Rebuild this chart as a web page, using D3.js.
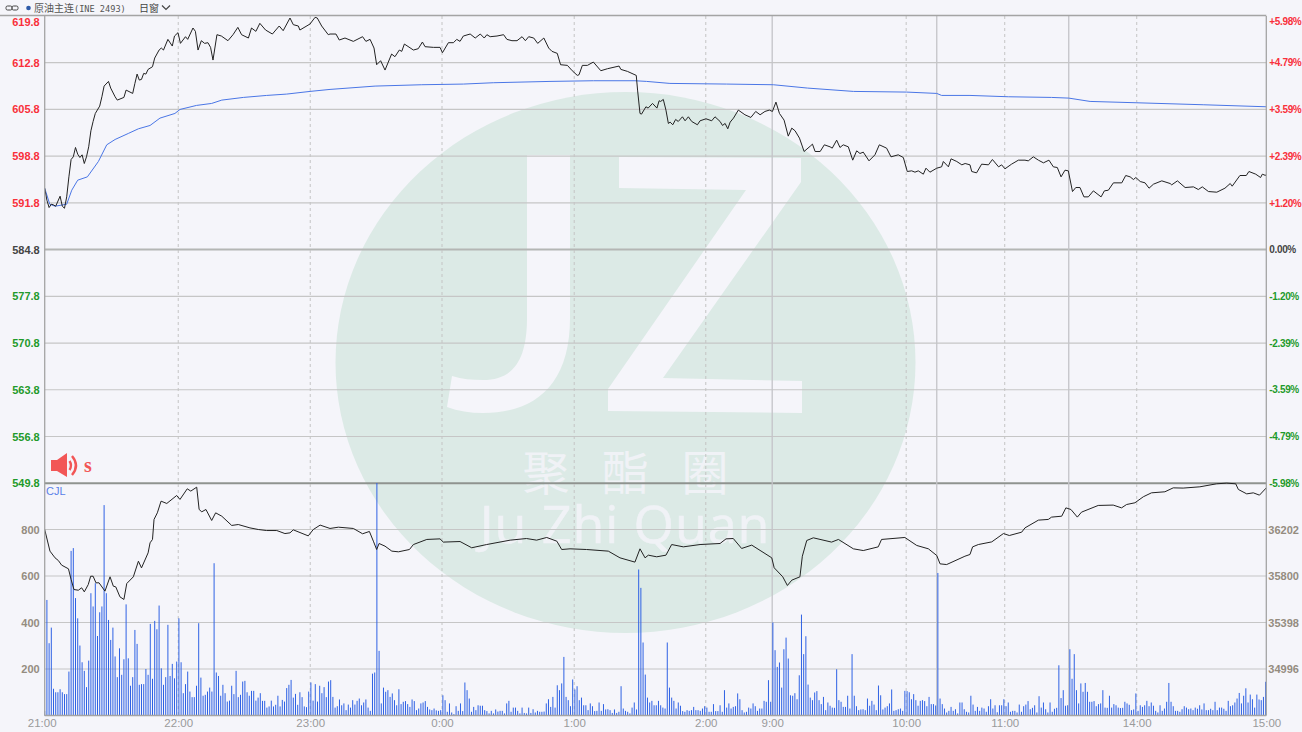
<!DOCTYPE html>
<html><head><meta charset="utf-8">
<script src="https://cdn.jsdelivr.net/npm/d3@7"></script>
<style>
html,body{margin:0;padding:0;background:#f5f5fa;overflow:hidden}
svg{display:block}
text{font-family:"Liberation Sans",Arial,sans-serif}
</style></head><body>
<svg id="c" width="1302" height="732"></svg>
<script>
const priceTicks=[619.8,612.8,605.8,598.8,591.8,584.8,577.8,570.8,563.8,556.8,549.8];
const pctLabels=["+5.98%","+4.79%","+3.59%","+2.39%","+1.20%","0.00%","-1.20%","-2.39%","-3.59%","-4.79%","-5.98%"];
const volTicks=[800,600,400,200];
const oiTicks=[36202,35800,35398,34996];
const timeLabels=["21:00","22:00","23:00","0:00","1:00","2:00","9:00","10:00","11:00","14:00","15:00"];
const timeSlots=[0,60.7,120.7,180.6,240.7,300.5,330.7,391.6,436.4,496.4,555.3];
const sessionSlots=[330.7,405.5,465.5];
const priceLine=[[0,594.0],[1,592.2],[2,591.1],[3,591.6],[4,591.5],[5,591.3],[7,592.8],[8,591.3],[9,591.0],[10,592.7],[11,595.7],[12,598.3],[13,598.7],[14,600.1],[15,599.1],[16,598.6],[17,599.0],[18,597.7],[19,598.7],[20,600.2],[21,602.6],[22,604.0],[23,605.2],[25,606.3],[26,607.7],[27,609.3],[29,610.0],[30,609.0],[32,607.7],[33,607.2],[36,607.6],[37,608.7],[40,608.2],[41,609.7],[42,611.1],[43,610.2],[44,610.3],[45,611.2],[46,611.1],[47,611.8],[49,612.2],[50,613.5],[52,614.7],[53,615.0],[54,614.7],[56,616.3],[58,615.3],[59,616.8],[60.6,617.3],[61.7,615.7],[64,616.7],[65,616.3],[67.4,618.0],[68.5,617.5],[69.7,614.7],[71.2,616.1],[72.7,615.7],[74.2,615.8],[75.4,615.1],[76.5,613.2],[78.3,617.0],[80.3,616.8],[83.3,616.1],[85.6,617.0],[87.8,618.1],[89.5,617.0],[92.6,616.5],[94,618.0],[96,617.5],[97.8,618.7],[100.4,617.7],[103.5,617.1],[106.6,618.3],[108.4,617.6],[111.5,619.5],[113,618.5],[115.3,618.3],[116,617.7],[120.6,618.6],[122.9,619.6],[123.9,619.5],[125.9,618.3],[128.9,617.0],[129.7,617.1],[132.4,617.1],[133.9,616.2],[136.5,616.5],[140.3,616.0],[144.5,616.7],[146,616.0],[147.9,616.3],[149.7,615.0],[150.9,612.5],[152.7,613.1],[154.7,611.7],[157.7,614.1],[159.2,613.7],[161.2,614.7],[162.3,614.5],[163.5,615.6],[167.6,614.7],[169.8,614.9],[171.7,615.9],[172.9,615.2],[176.7,615.1],[179.7,615.1],[180.8,614.3],[183.5,615.8],[185.8,615.8],[187.3,616.3],[188.8,616.0],[190.3,616.8],[193.4,617.1],[195.7,616.5],[198,617.1],[199.8,616.5],[201,617.0],[202.5,616.7],[205.6,616.8],[208.6,617.0],[210.1,616.3],[212.4,616.1],[214.7,616.1],[217,616.7],[218.5,616.1],[220,616.7],[222.3,616.5],[224.1,615.7],[226.9,616.5],[229.1,615.0],[230.6,614.5],[233,614.2],[234.5,612.5],[237.6,612.4],[239.8,611.6],[242.1,610.9],[242.9,611.0],[244.4,612.4],[246.7,612.4],[249.4,612.9],[252.8,611.6],[255.8,611.9],[261.1,612.3],[261.9,611.8],[264.9,611.5],[268.9,610.9],[269.5,608.7],[270.6,605.2],[271.3,605.1],[273.3,606.2],[274.3,606.0],[276.3,606.7],[278.3,606.0],[279.3,607.1],[280,607.0],[281.2,607.3],[282.4,605.7],[283.5,603.7],[284.3,603.9],[285.5,603.5],[286.8,604.3],[288,604.0],[289.9,604.7],[291.1,604.1],[292.6,604.7],[294.1,604.0],[296.7,603.5],[297.9,604.1],[300.6,604.4],[303.2,604.1],[304.7,604.7],[307,604.0],[308.1,603.4],[309.3,603.7],[310.5,602.9],[311.6,603.9],[313.1,604.5],[315.3,605.7],[318.3,605.0],[321,604.6],[323.2,605.5],[325.2,605.0],[327.4,605.5],[329.4,605.7],[330.8,605.5],[332.4,606.9],[334,605.2],[336.1,604.2],[338,601.8],[339.6,603.0],[341.1,602.6],[343.1,601.5],[345.2,599.5],[348,600.3],[349,600.6],[350.2,599.5],[352.5,599.5],[354.4,600.5],[357,600.2],[358,600.0],[360,601.2],[361.5,600.1],[363,600.5],[365.3,600.2],[367.3,598.2],[369.1,599.6],[370.6,599.2],[372.1,599.4],[374.7,598.1],[377.4,599.0],[379.4,600.5],[382.7,600.0],[384.7,598.7],[388,599.0],[390.3,598.6],[392.1,596.5],[394.1,596.6],[395.6,596.4],[397.1,596.6],[399.4,596.1],[400.6,597.0],[402.4,596.4],[405.5,597.0],[407.7,597.2],[408.5,598.0],[410.8,597.2],[412,598.4],[414.6,598.0],[416.9,597.5],[418.4,597.7],[420.6,597.5],[421.4,596.5],[423.6,596.3],[425.9,597.6],[429,597.5],[430.8,598.3],[433.6,597.2],[435,597.5],[436.5,596.9],[439.5,597.6],[442.6,598.2],[445.6,598.2],[447.1,598.1],[449.4,598.7],[451.7,598.2],[454,597.8],[456.5,598.2],[458.5,597.2],[460.3,597.1],[462,595.7],[463.8,596.7],[465.3,596.6],[467.2,593.5],[468.7,594.1],[470.6,594.1],[472.4,592.7],[474.4,592.7],[476.7,593.6],[480.2,592.7],[481.7,593.6],[483.5,593.7],[485.8,594.8],[489.6,594.8],[491.4,595.9],[493.4,595.7],[494.9,595.3],[496,595.6],[498,595.0],[500.2,594.8],[502,594.0],[504,594.6],[507.8,595.1],[511.6,594.7],[512.3,594.5],[514.9,595.1],[518.4,594.1],[522.2,594.2],[524.4,593.8],[526.2,594.2],[529,593.5],[532.8,593.4],[536.5,594.0],[538.9,594.7],[539.8,594.3],[543.3,595.9],[546.2,595.9],[547.4,596.5],[550.5,596.1],[552.7,595.6],[553.5,596.1],[555,595.9],[555.3,596.1]];
const avgLine=[[0,594],[2.3,591.6],[4.7,591.3],[10,591.6],[12.3,593.7],[15,595.2],[19.4,595.7],[24.4,598],[28.2,600.5],[32,601.3],[38,602.2],[42.6,602.9],[47.9,603.4],[52.4,604.5],[59.2,605.2],[61.5,605.8],[69,606.4],[75.9,606.7],[80.5,607.2],[90.3,607.6],[100.9,607.9],[110,608.1],[120.6,608.5],[129.7,608.8],[150.2,609.3],[171.4,609.5],[190.3,609.6],[203.9,609.8],[229.7,610],[249.4,610.1],[268.3,610.1],[273.6,610],[284.2,609.7],[310,609.6],[331.2,609.5],[346.8,609],[367.6,608.5],[391.8,608.4],[405.5,608.2],[407.7,607.9],[420.6,607.9],[438,607.7],[457.7,607.6],[465.5,607.5],[475.2,607],[496.4,606.8],[526.9,606.5],[555.3,606.2]];
const oiLine=[[0,36202],[2.4,36015],[4.7,35957],[6.2,35934],[7.7,35894],[10.8,35862],[12,35770],[13.3,35683],[15.3,35677],[16.8,35698],[18,35663],[19.8,35726],[20.9,35798],[22,35798],[23.3,35741],[24.7,35741],[27.4,35669],[29.7,35793],[31.2,35712],[32.3,35706],[34.2,35620],[36,35597],[37.3,35735],[40.3,35793],[42.6,35928],[44,35870],[47,36000],[47.9,36087],[49,36116],[49.7,36289],[51.2,36346],[52.9,36447],[55.5,36427],[60,36496],[61.5,36462],[64.8,36554],[66.4,36534],[69.1,36568],[70.2,36375],[71.4,36355],[73.3,36375],[75.9,36280],[77.7,36346],[80.5,36317],[85,36237],[88,36245],[93.3,36216],[97.1,36202],[100.9,36193],[105.5,36193],[109.2,36167],[111.5,36173],[113,36199],[119.8,36147],[122.1,36202],[125.2,36240],[129.7,36211],[133.5,36222],[140.3,36211],[144.5,36165],[147.6,36185],[149.4,36101],[150.9,36029],[152,36081],[154.7,36058],[157.8,36015],[160.8,36009],[165.8,36029],[167.6,36072],[173.7,36116],[179.7,36121],[181.2,36093],[188.8,36098],[194.1,36044],[200.9,36072],[211.6,36110],[219,36124],[223.6,36110],[228.2,36133],[232.8,36101],[235,36029],[238.8,36035],[246.3,36029],[256.2,36015],[261.5,35957],[268.3,35920],[270.6,36035],[272.9,35957],[274.4,35980],[278.2,35966],[282.4,35980],[285,36072],[290.3,36052],[297.9,36072],[307,36081],[309.7,36121],[313,36124],[316.8,36038],[321.4,36067],[330.5,35957],[331.6,35871],[335.5,35793],[337.6,35718],[339.6,35764],[343.3,35793],[344.4,35971],[346.4,36107],[349.4,36130],[357.7,36093],[360.8,36116],[367.6,36035],[372.1,36020],[378.9,36052],[380.4,36116],[391,36133],[396.4,36064],[401.7,36035],[405.5,35977],[407,35905],[410,35899],[418.3,35971],[420.6,35986],[421.8,36052],[424.4,36072],[430.5,36095],[435.8,36167],[438.5,36150],[444.1,36179],[445.6,36216],[451.7,36283],[456.2,36289],[457.7,36309],[462.3,36317],[464.2,36389],[466.5,36375],[469.4,36309],[471.3,36352],[478.9,36410],[485.7,36413],[489.5,36389],[491.8,36418],[495.6,36433],[499.4,36485],[503.1,36519],[509.2,36528],[513,36562],[517.5,36560],[525.1,36571],[532.7,36597],[537.3,36603],[541.4,36597],[542.6,36548],[546.4,36510],[549.4,36519],[552.2,36499],[555.3,36562]];
const volume=[20,497,311,378,115,100,100,113,100,92,92,189,708,720,505,418,301,229,192,122,236,526,469,569,342,444,469,905,526,411,325,378,254,165,289,175,242,478,246,128,165,368,308,132,135,135,200,175,394,158,407,371,473,203,132,165,390,170,222,160,232,418,229,96,135,189,103,79,79,128,397,163,85,89,103,120,103,655,185,170,85,132,96,60,64,128,92,192,79,89,146,149,100,85,106,106,64,77,96,63,63,34,39,64,39,46,85,39,67,60,118,132,153,77,93,46,100,79,39,36,103,142,64,135,60,128,96,122,79,146,152,80,34,40,69,44,52,23,47,34,66,47,63,73,44,56,69,34,20,180,185,1000,278,52,120,102,109,80,95,66,44,113,49,59,62,49,37,69,62,23,30,52,56,62,37,26,23,30,22,20,23,87,66,16,52,13,6,40,20,52,19,142,109,73,16,37,23,44,42,42,23,19,9,20,9,26,17,20,20,9,52,63,16,34,34,20,9,34,11,9,34,11,27,13,20,16,16,17,52,70,37,80,34,130,109,138,252,80,66,40,155,112,126,66,77,44,44,23,52,40,19,20,56,20,49,26,27,23,11,26,11,16,126,30,20,16,9,34,56,26,628,549,314,176,77,56,63,44,44,63,44,34,30,314,120,77,63,30,56,42,19,16,23,20,23,37,23,23,20,30,40,34,16,16,49,19,19,44,16,109,34,52,30,37,40,95,70,23,13,16,34,30,52,40,20,30,30,63,59,152,59,400,281,209,228,120,285,335,245,87,85,96,70,173,434,264,341,133,77,66,99,105,66,49,80,23,56,42,34,33,199,66,59,37,37,85,30,264,85,40,23,26,27,23,73,42,63,47,23,129,87,26,34,40,52,112,20,23,27,30,20,106,105,100,70,92,66,42,63,66,62,40,80,49,49,43,613,73,49,30,13,20,37,20,27,9,56,56,27,16,13,85,47,20,37,20,34,30,16,40,70,30,44,14,44,44,70,40,56,16,20,20,13,47,16,40,47,62,27,33,44,13,83,34,56,27,13,56,16,29,33,216,75,109,42,44,285,158,264,109,52,138,102,140,102,59,59,62,40,49,52,109,34,33,85,34,49,44,34,32,33,59,52,46,23,26,95,20,44,37,44,63,40,56,42,20,13,44,20,30,59,140,59,40,20,20,16,27,40,34,27,30,23,34,29,44,26,52,23,23,29,23,59,23,34,34,29,20,63,40,44,56,73,97,52,85,117,56,90,70,34,90,69,66,80,145];

const svg=d3.select("#c");
const plotL=44.7,plotR=1266.3,plotT=16,plotB=715.5;
const x=d3.scaleLinear().domain([0,555.3]).range([plotL,plotR]);
const yP=d3.scaleLinear().domain([549.8,619.8]).range([483.2,16]);
const yV=d3.scaleLinear().domain([0,800]).range([plotB,529.5]);
const yO=d3.scaleLinear().domain([34996,36202]).range([669,529.5]);

// watermark
const wm=svg.append("g");
wm.append("ellipse").attr("cx",625.5).attr("cy",362.5).attr("rx",290).attr("ry",270.5).attr("fill","#dceae6");
const wmLight="#f5f5fa";
wm.append("path").attr("fill",wmLight).attr("d","M527,155 L570,155 L570,318 C570,385 535,413 483,413 C470,413 458,411 447,407 L452,376 C462,379 472,380 483,380 C512,380 527,362 527,318 Z");
wm.append("path").attr("fill",wmLight).attr("d","M619,157 L801,158 L801,182 L663,378 L802,381 L802,413 L608,411 L608,389 L746,190 L619,188 Z");
wm.append("text").attr("x",631).attr("y",489.5).attr("text-anchor","middle").attr("fill","#f0f2f6")
  .attr("font-size",47).attr("font-weight",400).style("font-family","'Noto Sans CJK SC'").attr("letter-spacing",11).text("聚 酯 圈");
wm.append("text").attr("x",625).attr("y",543).attr("text-anchor","middle").attr("fill","#f0f2f6")
  .attr("font-size",52).attr("font-weight",400).attr("letter-spacing",0.9).attr("stroke","#f0f2f6").attr("stroke-width",0.5).style("font-family","'Open Sans'").text("Ju Zhi Quan");

// grid
const gridC="#c6c6c6";
const hGrid=svg.append("g");
priceTicks.slice(1).forEach(p=>{
  const isZero=p===584.8,isBot=p===549.8;
  hGrid.append("line").attr("x1",plotL).attr("x2",plotR).attr("y1",yP(p)).attr("y2",yP(p))
    .attr("stroke",isBot?"#8f938f":isZero?"#b4b6b4":gridC).attr("stroke-width",isBot||isZero?2:1.2);
});
volTicks.forEach(v=>hGrid.append("line").attr("x1",plotL).attr("x2",plotR).attr("y1",yV(v)).attr("y2",yV(v)).attr("stroke",gridC).attr("stroke-width",1.2));
const vGrid=svg.append("g");
timeSlots.slice(1,-1).filter(s=>!sessionSlots.includes(s)).forEach(s=>
  vGrid.append("line").attr("x1",x(s)).attr("x2",x(s)).attr("y1",plotT).attr("y2",plotB).attr("stroke","#c4c4c4").attr("stroke-width",1).attr("stroke-dasharray","3,3"));
sessionSlots.forEach(s=>vGrid.append("line").attr("x1",x(s)).attr("x2",x(s)).attr("y1",plotT).attr("y2",plotB).attr("stroke","#c4c4c8").attr("stroke-width",1.3));

// volume
svg.append("g").selectAll("rect").data(volume).join("rect")
  .attr("x",(d,i)=>x(i)-0.5).attr("width",1).attr("y",d=>yV(d)).attr("height",d=>plotB-yV(d)).attr("fill","#2f62e4");

// lines
const ln=sc=>d3.line().x(d=>x(d[0])).y(d=>sc(d[1]));
svg.append("path").datum(avgLine).attr("d",ln(yP)).attr("fill","none").attr("stroke","#4a76e6").attr("stroke-width",1);
svg.append("path").datum(priceLine).attr("d",ln(yP)).attr("fill","none").attr("stroke","#222").attr("stroke-width",1);
svg.append("path").datum(oiLine).attr("d",ln(yO)).attr("fill","none").attr("stroke","#222").attr("stroke-width",1);

// frame
const fr=svg.append("g").attr("stroke","#a4a4a4").attr("stroke-width",1.3);
fr.append("line").attr("x1",plotL).attr("x2",plotL).attr("y1",plotT).attr("y2",plotB);
fr.append("line").attr("x1",plotR).attr("x2",plotR).attr("y1",plotT).attr("y2",plotB);
fr.append("line").attr("x1",0).attr("x2",plotR).attr("y1",plotT-0.5).attr("y2",plotT-0.5);
fr.append("line").attr("x1",plotL).attr("x2",plotR).attr("y1",plotB).attr("y2",plotB);

// axes
function clean(g){g.select(".domain").remove();g.selectAll(".tick line").remove();}
const priceColor=p=>p>584.8?"#f9303a":p===584.8?"#444":"#1f9a2a";
const gL=svg.append("g").attr("transform",`translate(${plotL},0)`)
  .call(d3.axisLeft(yP).tickValues(priceTicks).tickFormat(d3.format(".1f")).tickSize(0).tickPadding(5)).call(clean);
gL.selectAll("text").attr("fill",d=>priceColor(d)).attr("font-size",11).attr("font-weight","bold").style("font-family","'Liberation Sans'");
const gR=svg.append("g").attr("transform",`translate(${plotR},0)`)
  .call(d3.axisRight(yP).tickValues(priceTicks).tickFormat((d,i)=>pctLabels[i]).tickSize(0).tickPadding(3)).call(clean);
gR.selectAll("text").attr("fill",d=>priceColor(d)).attr("font-size",10).attr("letter-spacing",-0.35).attr("font-weight","bold").style("font-family","'Liberation Sans'");
[gL,gR].forEach(g=>g.selectAll(".tick").filter(d=>d===619.8).attr("transform",`translate(0,${yP(619.8)+6})`));
const gVl=svg.append("g").attr("transform",`translate(${plotL},0)`)
  .call(d3.axisLeft(yV).tickValues(volTicks).tickSize(0).tickPadding(5)).call(clean);
gVl.selectAll("text").attr("fill","#948c80").attr("font-size",11).attr("font-weight","bold").style("font-family","'Liberation Sans'");
const gOr=svg.append("g").attr("transform",`translate(${plotR},0)`)
  .call(d3.axisRight(yO).tickValues(oiTicks).tickFormat(d3.format("d")).tickSize(0).tickPadding(2)).call(clean);
gOr.selectAll("text").attr("fill","#948c80").attr("font-size",11).style("font-family","'Liberation Sans'").style("font-weight","bold");
const gX=svg.append("g").attr("transform",`translate(0,${plotB})`)
  .call(d3.axisBottom(x).tickValues(timeSlots).tickFormat((d,i)=>timeLabels[i]).tickSize(0).tickPadding(3)).call(clean);
gX.selectAll("text").attr("fill","#9a9a9a").attr("font-size",11.5).style("font-family","'Liberation Sans'");
gX.selectAll(".tick").filter((d,i)=>i===0).select("text").attr("dx",-3);

svg.append("text").attr("x",46).attr("y",495).attr("fill","#5b80e8").attr("font-size",11).text("CJL");

// header
const hd=svg.append("g");
hd.append("rect").attr("x",6).attr("y",6).attr("width",6).attr("height",4).attr("rx",1.5).attr("fill","none").attr("stroke","#444").attr("stroke-width",1);
hd.append("rect").attr("x",12).attr("y",6).attr("width",6).attr("height",4).attr("rx",1.5).attr("fill","none").attr("stroke","#444").attr("stroke-width",1);
hd.append("circle").attr("cx",28.5).attr("cy",8).attr("r",2.3).attr("fill","#2d5aa8");
hd.append("text").attr("x",34).attr("y",12).attr("font-size",10).attr("fill","#555").style("font-family","'Noto Sans CJK SC'").text("原油主连");
hd.append("text").attr("x",74).attr("y",12).attr("font-size",8.6).attr("fill","#555").style("font-family","'DejaVu Sans Mono'").text("(INE 2493)");
hd.append("text").attr("x",139).attr("y",12).attr("font-size",10).attr("fill","#444").style("font-family","'Noto Sans CJK SC'").text("日窗");
hd.append("path").attr("d","M162,5.5 L166,9.5 L170,5.5").attr("fill","none").attr("stroke","#444").attr("stroke-width",1.2);

// speaker
const sp=svg.append("g").attr("fill","#f25656");
sp.append("path").attr("d","M51,460 L57,460 L67,453 L67,477 L57,471 L51,471 Z");
sp.append("path").attr("d","M69.5,461 Q72.5,465.5 69.5,470").attr("fill","none").attr("stroke","#f25656").attr("stroke-width",2.4);
sp.append("path").attr("d","M72,456 Q80,465.5 72,475").attr("fill","none").attr("stroke","#f25656").attr("stroke-width",2.4);
svg.append("text").attr("x",84).attr("y",472).attr("font-size",20).attr("font-weight","bold").attr("fill","#f25656").style("font-family","'Liberation Serif'").text("s");
</script>
</body></html>
